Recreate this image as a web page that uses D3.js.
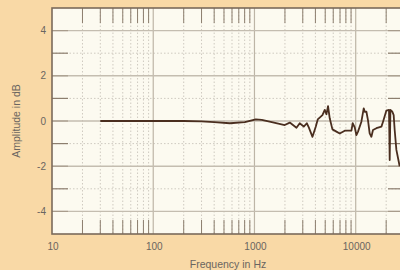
<!DOCTYPE html>
<html>
<head>
<meta charset="utf-8">
<script src="https://cdn.jsdelivr.net/npm/d3@7"></script>
<style>
  html, body { margin: 0; padding: 0; background: #f9d9a6; }
  svg { display: block; }
</style>
</head>
<body>
<div id="chart"></div>
<script>
// frequency response data
var freqHz = [30, 50, 100, 200, 300, 400, 571, 803, 1031, 1181, 1483, 1992, 2233, 2600, 2800, 3069,
  3288, 3440, 3742, 4030, 4218, 4692, 4945, 5140, 5330, 5540, 5890, 6453, 6955, 7796, 9077, 9340,
  9780, 10160, 10540, 11380, 12000, 12280, 12760, 13220, 13740, 14290, 14820, 16010, 17950, 18620,
  20100, 21330, 21670, 22020, 23030, 23720, 24270, 25230, 27180];
var ampDb = [0, 0, 0, 0, -0.02, -0.05, -0.1, -0.05, 0.07, 0.05, -0.05, -0.18, -0.07, -0.3, -0.1, -0.25,
  -0.1, -0.28, -0.7, -0.25, 0.07, 0.26, 0.49, 0.3, 0.66, 0.12, -0.37, -0.47, -0.55, -0.43, -0.43, -0.1,
  -0.28, -0.62, -0.47, -0.03, 0.56, 0.41, 0.41, 0.04, -0.55, -0.7, -0.4, -0.32, -0.25, -0.03,
  0.46, 0.49, -1.73, 0.49, 0.41, 0.26, -0.4, -1.28, -2.0];

var xTickLabels = [10, 100, 1000, 10000];
var yTickLabels = [4, 2, 0, -2, -4];

var width = 400, height = 270;
var margin = { top: 8, right: -4, bottom: 36, left: 52 };

var svg = d3.select("#chart")
  .append("svg")
  .attr("width", width)
  .attr("height", height);

var x = d3.scaleLog()
  .domain([10, 30000])
  .range([margin.left, width - margin.right]);

var y = d3.scaleLinear()
  .domain([-5, 5])
  .range([height - margin.bottom, margin.top]);

var x0 = x.range()[0], x1 = x.range()[1];
var y0 = y.range()[1], y1 = y.range()[0];

// plot background
svg.append("rect")
  .attr("x", x0).attr("y", y0)
  .attr("width", x1 - x0).attr("height", y1 - y0)
  .attr("fill", "#fcfaf0");

var allTicks = x.ticks().filter(function(d) { return d > 10 && d < 30000; });
var decades = allTicks.filter(function(d) { return Math.abs(Math.log10(d) % 1) < 1e-9; });
var minors = allTicks.filter(function(d) { return decades.indexOf(d) < 0; });
var dbs = d3.range(-4, 5);

// grid
svg.append("g").selectAll("line")
  .data(minors)
  .enter().append("line")
  .attr("x1", function(d) { return x(d); }).attr("x2", function(d) { return x(d); })
  .attr("y1", y0).attr("y2", y1)
  .attr("stroke", "#cfcac0")
  .attr("stroke-width", 1)
  .attr("stroke-dasharray", "1.5,2");

svg.append("g").selectAll("line")
  .data(dbs.filter(function(d) { return d % 2 !== 0; }))
  .enter().append("line")
  .attr("x1", x0).attr("x2", x1)
  .attr("y1", function(d) { return y(d); }).attr("y2", function(d) { return y(d); })
  .attr("stroke", "#cfcac0")
  .attr("stroke-width", 1)
  .attr("stroke-dasharray", "1.5,2");

svg.append("g").selectAll("line")
  .data(decades)
  .enter().append("line")
  .attr("x1", function(d) { return x(d); }).attr("x2", function(d) { return x(d); })
  .attr("y1", y0).attr("y2", y1)
  .attr("stroke", "#bdb5a6")
  .attr("stroke-width", 1.2);

svg.append("g").selectAll("line")
  .data(dbs.filter(function(d) { return d % 2 === 0; }))
  .enter().append("line")
  .attr("x1", x0).attr("x2", x1)
  .attr("y1", function(d) { return y(d); }).attr("y2", function(d) { return y(d); })
  .attr("stroke", "#c4bdb0")
  .attr("stroke-width", 1.4);

// inward ticks
var tickColor = "#8c7e6e";
svg.append("g").selectAll("line")
  .data(minors)
  .enter().append("line")
  .attr("x1", function(d) { return x(d); }).attr("x2", function(d) { return x(d); })
  .attr("y1", y0).attr("y2", y0 + 15)
  .attr("stroke", tickColor).attr("stroke-width", 1);

svg.append("g").selectAll("line")
  .data(minors)
  .enter().append("line")
  .attr("x1", function(d) { return x(d); }).attr("x2", function(d) { return x(d); })
  .attr("y1", y1 - 14).attr("y2", y1)
  .attr("stroke", tickColor).attr("stroke-width", 1);

svg.append("g").selectAll("line")
  .data(dbs)
  .enter().append("line")
  .attr("x1", x0).attr("x2", x0 + 16)
  .attr("y1", function(d) { return y(d); }).attr("y2", function(d) { return y(d); })
  .attr("stroke", function(d) { return d % 2 === 0 ? "#a89c8c" : tickColor; })
  .attr("stroke-width", 1.2);

svg.append("g").selectAll("line")
  .data(dbs)
  .enter().append("line")
  .attr("x1", x1 - 16).attr("x2", x1)
  .attr("y1", function(d) { return y(d); }).attr("y2", function(d) { return y(d); })
  .attr("stroke", function(d) { return d % 2 === 0 ? "#a89c8c" : tickColor; })
  .attr("stroke-width", 1.2);

// curve
var line = d3.line()
  .x(function(d, i) { return x(freqHz[i]); })
  .y(function(d) { return y(d); });

svg.append("path")
  .datum(ampDb)
  .attr("d", line)
  .attr("fill", "none")
  .attr("stroke", "#4a2e1f")
  .attr("stroke-width", 1.8)
  .attr("stroke-linejoin", "round");

// frame
svg.append("rect")
  .attr("x", x0).attr("y", y0)
  .attr("width", x1 - x0).attr("height", y1 - y0)
  .attr("fill", "none")
  .attr("stroke", "#7a6a5a")
  .attr("stroke-width", 1.6);

// labels
var font = "'Liberation Sans', Arial, sans-serif";
svg.append("g").selectAll("text")
  .data(xTickLabels)
  .enter().append("text")
  .attr("x", function(d) { return x(d) + 1; })
  .attr("y", 250)
  .attr("text-anchor", "middle")
  .attr("font-family", font)
  .attr("font-size", 10)
  .attr("fill", "#6a6560")
  .text(function(d) { return d; });

svg.append("g").selectAll("text")
  .data(yTickLabels)
  .enter().append("text")
  .attr("x", 46)
  .attr("y", function(d) { return y(d) + 3.5; })
  .attr("text-anchor", "end")
  .attr("font-family", font)
  .attr("font-size", 10)
  .attr("fill", "#6a6560")
  .text(function(d) { return d; });

svg.append("text")
  .attr("x", (x0 + x1) / 2)
  .attr("y", 268)
  .attr("text-anchor", "middle")
  .attr("font-family", font)
  .attr("font-size", 10.5)
  .attr("fill", "#6a6560")
  .text("Frequency in Hz");

svg.append("text")
  .attr("transform", "translate(20," + (y0 + y1) / 2 + ") rotate(-90)")
  .attr("text-anchor", "middle")
  .attr("font-family", font)
  .attr("font-size", 10.5)
  .attr("fill", "#6a6560")
  .text("Amplitude in dB");
</script>
</body>
</html>
